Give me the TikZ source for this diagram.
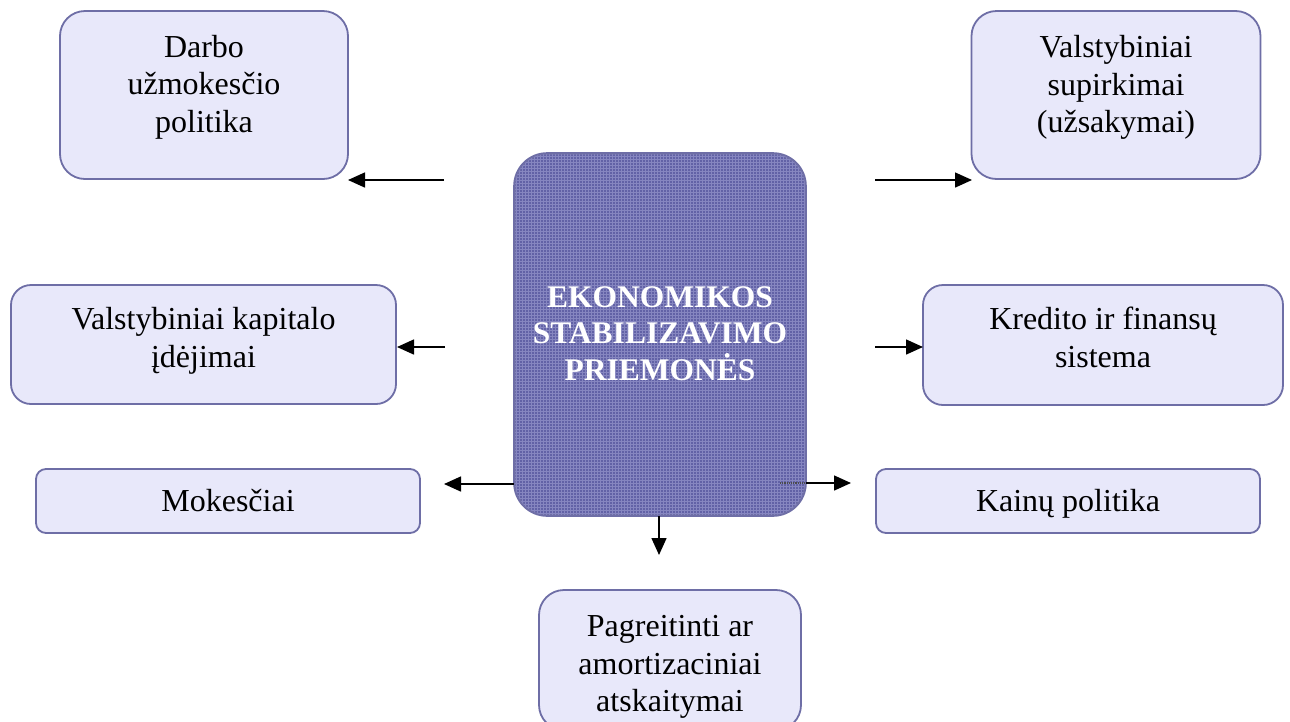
\documentclass[tikz,border=0pt]{standalone}
\usepackage{fontspec}
\setmainfont{Liberation Serif}
\usetikzlibrary{arrows.meta}
\definecolor{boxfill}{HTML}{E8E8FA}
\definecolor{boxline}{HTML}{6E6EA6}
\definecolor{cfill}{HTML}{6262A6}
\definecolor{cgrid}{HTML}{8686C0}
\begin{document}
\begin{tikzpicture}[x=1pt,y=-1pt,
  sidebox/.style={draw=boxline, line width=1.8pt, fill=boxfill, inner sep=0pt, rectangle},
  mainbox/.style={draw=boxline, line width=1.8pt, fill=cfill, inner sep=0pt, rectangle, rounded corners=33pt},
  boxtext/.style={align=center, inner sep=0pt, font=\fontsize{32}{37.5}\selectfont},
  maintext/.style={align=center, inner sep=0pt, text=white, font=\fontsize{31.5}{36.7}\selectfont\bfseries},
  arr/.style={line width=1.5pt, -{Triangle[length=17pt,width=15pt]}}]
\clip (0,0) rectangle (1290,721);
\fill[white] (0,0) rectangle (1290,721);

% boxes
\node[sidebox, rounded corners=25pt, minimum width=288pt, minimum height=168pt] (darbo) at (204,95) {};
\node[sidebox, rounded corners=25pt, minimum width=289pt, minimum height=168pt] (supirk) at (1116,95) {};
\node[sidebox, rounded corners=20pt, minimum width=385pt, minimum height=119pt] (kap) at (203.5,344.5) {};
\node[sidebox, rounded corners=20pt, minimum width=360pt, minimum height=120pt] (kred) at (1103,345) {};
\node[sidebox, rounded corners=10pt, minimum width=384pt, minimum height=64pt] (mok) at (228,501) {};
\node[sidebox, rounded corners=10pt, minimum width=384pt, minimum height=64pt] (kain) at (1068,501) {};
\node[sidebox, rounded corners=25pt, minimum width=262pt, minimum height=140pt] (pag) at (670,660) {};
\node[mainbox, minimum width=290pt, minimum height=361pt] (center) at (660,334.5) {};
% grid texture of the central box
\begin{scope}
  \clip[rounded corners=33pt] (center.south west) rectangle (center.north east);
  \draw[cgrid, line width=0.6pt, step=3pt] (center.south west) grid (center.north east);
\end{scope}
\draw[boxline, line width=1.8pt, rounded corners=33pt] (center.south west) rectangle (center.north east);

% texts
\node[boxtext] (darbo-t) at (204,87) {Darbo\\užmokesčio\\politika};
\node[boxtext] (supirk-t) at (1116,87.5) {Valstybiniai\\supirkimai\\(užsakymai)};
\node[boxtext] (kap-t) at (203.5,341) {Valstybiniai kapitalo\\įdėjimai};
\node[boxtext] (kred-t) at (1103,337.5) {Kredito ir finansų\\sistema};
\node[boxtext] (mok-t) at (228,501) {Mokesčiai};
\node[boxtext] (kain-t) at (1068,504) {Kainų politika};
\node[boxtext] (pag-t) at (670,667) {Pagreitinti ar\\amortizaciniai\\atskaitymai};
\node[maintext] (center-t) at (660,333.5) {EKONOMIKOS\\STABILIZAVIMO\\PRIEMONĖS};

% connector ends
\coordinate (a1s) at (444,180);
\coordinate (a1e) at (348,180);
\coordinate (a2s) at (875,180);
\coordinate (a2e) at (972,180);
\coordinate (a3s) at (445,347);
\coordinate (a3e) at (397,347);
\coordinate (a4s) at (875,347);
\coordinate (a4e) at (923,347);
\coordinate (a5e) at (444,484);
\coordinate (a6d) at (780,483);
\coordinate (a6e) at (851,483);
\coordinate (a7e) at (659,555);

% connectors
\draw[arr] (a1s) -- (a1e);
\draw[arr] (a2s) -- (a2e);
\draw[arr] (a3s) -- (a3e);
\draw[arr] (a4s) -- (a4e);
\draw[arr] (center.west |- a5e) -- (a5e);
\draw[line width=1.2pt, densely dotted, black!70] (a6d) -- (center.east |- a6d);
\draw[arr] (center.east |- a6d) -- (a6e);
\draw[arr] (center.south -| a7e) -- (a7e);
\end{tikzpicture}
\end{document}
